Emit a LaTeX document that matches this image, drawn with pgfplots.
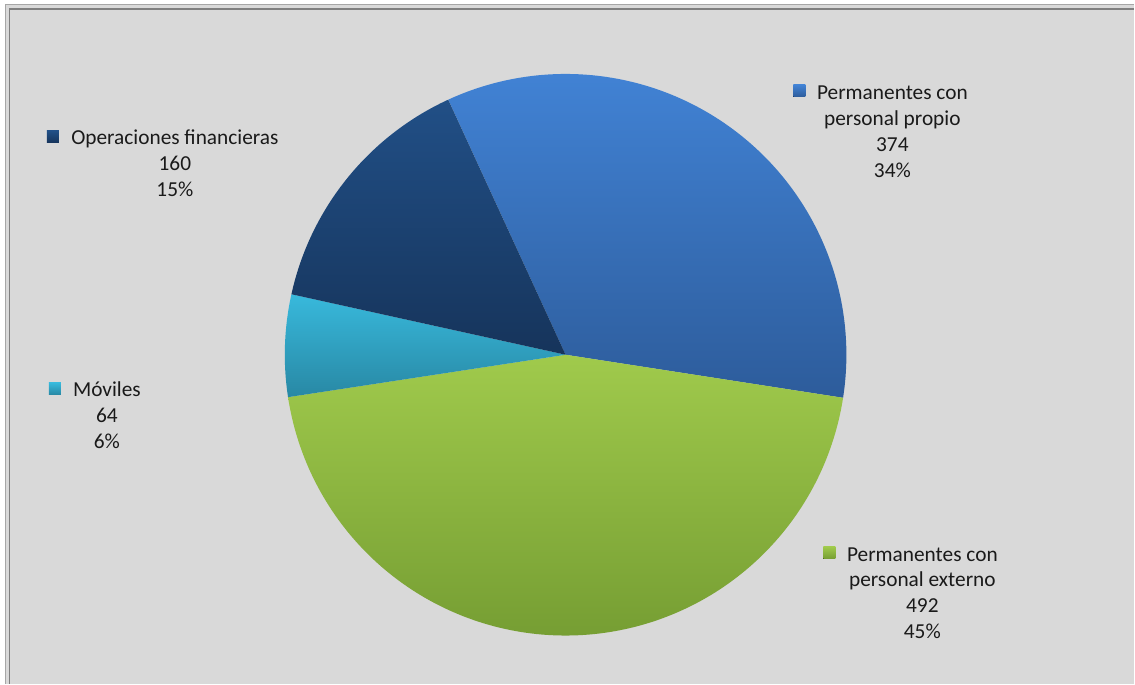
\documentclass[border=0pt]{standalone}
\usepackage{pgfplots}
\usepackage{pgfplotstable}
\pgfplotsset{compat=1.18}
\usepackage{fontspec}
\setmainfont{Carlito}

\definecolor{bgc}{HTML}{D9D9D9}
\definecolor{brdA}{HTML}{A6A6A6}
\definecolor{brdB}{HTML}{7F7F7F}
\definecolor{propT}{HTML}{4182D4}
\definecolor{propB}{HTML}{2D5C9B}
\definecolor{extT}{HTML}{A0CA4C}
\definecolor{extB}{HTML}{769E33}
\definecolor{movT}{HTML}{38B9DC}
\definecolor{movB}{HTML}{2888A4}
\definecolor{opT}{HTML}{214F86}
\definecolor{opB}{HTML}{16345B}
\definecolor{txt}{HTML}{1A1A1A}

\tikzset{lbl/.style={anchor=base, font=\fontsize{16}{19.5}\selectfont, text=txt, inner sep=0pt}}

\pgfplotstableread{
name value
propio 374
externo 492
moviles 64
operaciones 160
}\piedata

\begin{document}
\begin{tikzpicture}
\pgfplotstablegetelem{0}{value}\of\piedata \edef\va{\pgfplotsretval}
\pgfplotstablegetelem{1}{value}\of\piedata \edef\vb{\pgfplotsretval}
\pgfplotstablegetelem{2}{value}\of\piedata \edef\vc{\pgfplotsretval}
\pgfplotstablegetelem{3}{value}\of\piedata \edef\vd{\pgfplotsretval}
\pgfmathsetmacro\tot{\va+\vb+\vc+\vd}
\pgfmathsetmacro\aA{114.7}
\pgfmathsetmacro\aB{\aA-360*(\va/\tot)}
\pgfmathsetmacro\aC{\aB-360*(\vb/\tot)}
\pgfmathsetmacro\aD{\aC-360*(\vc/\tot)}
\pgfmathsetmacro\aE{\aD-360*(\vd/\tot)}
\begin{axis}[
  width=851.25pt, height=513pt, scale only axis,
  xmin=0, xmax=1135, ymin=0, ymax=684,
  hide axis, clip=false,
]
% background and frame
\fill[white] (axis cs:0,0) rectangle (axis cs:1135,684);
\fill[bgc] (axis cs:5,0) rectangle (axis cs:1135,679.5);
\draw[brdA, line width=1.2pt] (axis cs:5.5,0) -- (axis cs:5.5,679.5) -- (axis cs:1135,679.5);
\draw[brdB, line width=1.2pt] (axis cs:9.5,0) -- (axis cs:9.5,675) -- (axis cs:1135,675);

% pie slices
\addplot[draw=none, top color=propT, bottom color=propB, domain=\aB:\aA, samples=120, variable=\t]
  ({566+281*cos(\t)},{329+281*sin(\t)}) -- (axis cs:566,329) -- cycle;
\addplot[draw=none, top color=extT, bottom color=extB, domain=\aC:\aB, samples=150, variable=\t]
  ({566+281*cos(\t)},{329+281*sin(\t)}) -- (axis cs:566,329) -- cycle;
\addplot[draw=none, top color=movT, bottom color=movB, domain=\aD:\aC, samples=40, variable=\t]
  ({566+281*cos(\t)},{329+281*sin(\t)}) -- (axis cs:566,329) -- cycle;
\addplot[draw=none, top color=opT, bottom color=opB, domain=\aE:\aD, samples=60, variable=\t]
  ({566+281*cos(\t)},{329+281*sin(\t)}) -- (axis cs:566,329) -- cycle;

% label keys
\fill[top color=propT, bottom color=propB] (axis cs:794,587) rectangle (axis cs:806,599);
\fill[top color=opT, bottom color=opB] (axis cs:47,541) rectangle (axis cs:59,553);
\fill[top color=movT, bottom color=movB] (axis cs:49,289) rectangle (axis cs:61,301);
\fill[top color=extT, bottom color=extB] (axis cs:824,125) rectangle (axis cs:836,137);

% labels
\node[lbl] at (axis cs:893,584) {Permanentes con};
\node[lbl] at (axis cs:893,558) {personal propio};
\node[lbl] at (axis cs:893,532) {374};
\node[lbl] at (axis cs:893,506) {34\%};

\node[lbl] at (axis cs:175,539) {Operaciones financieras};
\node[lbl] at (axis cs:175,513) {160};
\node[lbl] at (axis cs:175,487) {15\%};

\node[lbl] at (axis cs:107,287) {Móviles};
\node[lbl] at (axis cs:107,261) {64};
\node[lbl] at (axis cs:107,235) {6\%};

\node[lbl] at (axis cs:923,122) {Permanentes con};
\node[lbl] at (axis cs:923,97) {personal externo};
\node[lbl] at (axis cs:923,71) {492};
\node[lbl] at (axis cs:923,45) {45\%};
\end{axis}
\end{tikzpicture}
\end{document}
